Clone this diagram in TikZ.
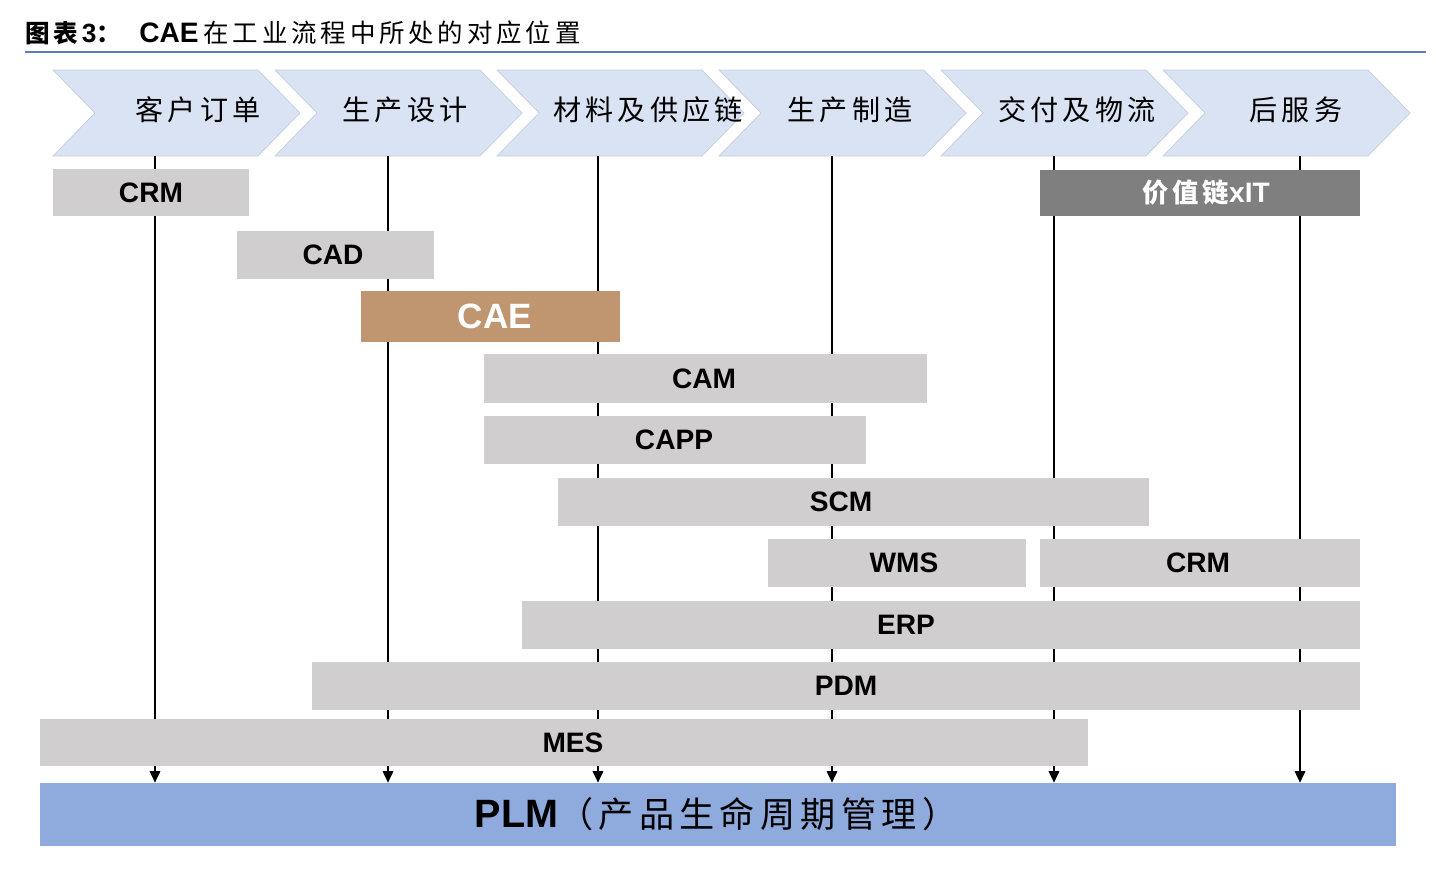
\documentclass[tikz,border=0pt]{standalone}
\usepackage{fontspec}
\setmainfont{Liberation Sans}
\newfontfamily\cjk{Noto Sans CJK SC}[LetterSpace=15]
\usepackage{xcolor}
\usetikzlibrary{arrows.meta}

\definecolor{chevblue}{HTML}{DAE3F3}
\definecolor{chevline}{HTML}{C5CEDD}
\definecolor{bargray}{HTML}{D0CECE}
\definecolor{caebrown}{HTML}{BF9670}
\definecolor{xitgray}{HTML}{7F7F7F}
\definecolor{plmblue}{HTML}{8FAADC}
\definecolor{ruleblue}{HTML}{5B7DB8}

\tikzset{
  chev/.style={fill=chevblue, draw=chevline, line width=0.4pt},
  stage/.style={inner sep=0pt, font=\fontsize{16}{18}\cjk},
  bar/.style={fill=bargray, inner sep=0pt, minimum height=0.96cm},
  tag/.style={inner sep=0pt, font=\bfseries\fontsize{16}{18}\selectfont},
  flow/.style={-{Triangle[width=6pt,length=6.5pt]}, line width=0.8pt},
}

\begin{document}
\begin{tikzpicture}[x=0.02cm, y=-0.02cm]
    \useasboundingbox (0,0) rectangle (1436,876);

    \node[anchor=west, inner sep=0pt] (title) at (25,33)
        {{\fontsize{14}{16}\cjk\bfseries 图表}\textbf{\fontsize{15}{16}\selectfont 3}{\fontsize{14}{16}\cjk\bfseries ：}\hspace{0.29cm}\textbf{\fontsize{16}{16}\selectfont CAE} {\fontsize{14.5}{16}\cjk 在工业流程中所处的对应位置}};
    \draw[ruleblue, line width=1pt] (25,52) -- (1426,52);

    \draw[chev] (53,70) -- ++(205,0) -- ++(42,43) -- ++(-42,43) -- ++(-205,0) -- ++(42,-43) -- cycle;
    \draw[chev] (275,70) -- ++(205,0) -- ++(42,43) -- ++(-42,43) -- ++(-205,0) -- ++(42,-43) -- cycle;
    \draw[chev] (497,70) -- ++(205,0) -- ++(42,43) -- ++(-42,43) -- ++(-205,0) -- ++(42,-43) -- cycle;
    \draw[chev] (719,70) -- ++(205,0) -- ++(42,43) -- ++(-42,43) -- ++(-205,0) -- ++(42,-43) -- cycle;
    \draw[chev] (941,70) -- ++(205,0) -- ++(42,43) -- ++(-42,43) -- ++(-205,0) -- ++(42,-43) -- cycle;
    \draw[chev] (1163,70) -- ++(205,0) -- ++(42,43) -- ++(-42,43) -- ++(-205,0) -- ++(42,-43) -- cycle;

    \node[stage] (order) at (198,110) {客户订单};
    \node[stage] (design) at (405,110) {生产设计};
    \node[stage] (supply) at (648,110) {材料及供应链};
    \node[stage] (make) at (850,110) {生产制造};
    \node[stage] (deliver) at (1077,110) {交付及物流};
    \node[stage] (service) at (1296,110) {后服务};

    \coordinate (s1) at (155,156);
    \coordinate (s2) at (388,156);
    \coordinate (s3) at (598,156);
    \coordinate (s4) at (832,156);
    \coordinate (s5) at (1054,156);
    \coordinate (s6) at (1300,156);

    \node[fill=plmblue, inner sep=0pt, minimum width=27.12cm, minimum height=1.26cm] (plm) at (718,814.5) {};
    \node[inner sep=0pt] (plmt) at (716,814.5)
        {\textbf{\fontsize{22.5}{24}\selectfont PLM}{\fontsize{20}{22}\cjk （产品生命周期管理）}};

    \draw[flow] (s1) -- (s1 |- plm.north);
    \draw[flow] (s2) -- (s2 |- plm.north);
    \draw[flow] (s3) -- (s3 |- plm.north);
    \draw[flow] (s4) -- (s4 |- plm.north);
    \draw[flow] (s5) -- (s5 |- plm.north);
    \draw[flow] (s6) -- (s6 |- plm.north);

    \node[bar, minimum width=3.92cm, minimum height=0.94cm] (crmA) at (151,192.5) {};
    \node[bar, fill=xitgray, minimum width=6.40cm, minimum height=0.92cm] (xit) at (1200,193) {};
    \node[bar, minimum width=3.94cm] (cad) at (335.5,255) {};
    \node[bar, fill=caebrown, minimum width=5.18cm, minimum height=1.02cm] (cae) at (490.5,316.5) {};
    \node[bar, minimum width=8.86cm, minimum height=0.98cm] (cam) at (705.5,378.5) {};
    \node[bar, minimum width=7.64cm] (capp) at (675,440) {};
    \node[bar, minimum width=11.82cm] (scm) at (853.5,502) {};
    \node[bar, minimum width=5.16cm] (wms) at (897,563) {};
    \node[bar, minimum width=6.40cm] (crmB) at (1200,563) {};
    \node[bar, minimum width=16.76cm] (erp) at (941,625) {};
    \node[bar, minimum width=20.96cm] (pdm) at (836,686) {};
    \node[bar, minimum width=20.96cm, minimum height=0.94cm] (mes) at (564,742.5) {};

    \node[tag] (crmAt) at (151,192.5) {CRM};
    \node[tag, text=white] (xitt) at (1206,193) {{\fontsize{15}{18}\cjk\bfseries 价值链}xIT};
    \node[tag] (cadt) at (333,255) {CAD};
    \node[tag, text=white, font=\bfseries\fontsize{20}{22}\selectfont] (caet) at (495,316.5) {CAE};
    \node[tag] (camt) at (704,378.5) {CAM};
    \node[tag] (cappt) at (674,440) {CAPP};
    \node[tag] (scmt) at (841,502) {SCM};
    \node[tag] (wmst) at (904,563) {WMS};
    \node[tag] (crmBt) at (1198,563) {CRM};
    \node[tag] (erpt) at (906,625) {ERP};
    \node[tag] (pdmt) at (846,686) {PDM};
    \node[tag] (mest) at (573,742.5) {MES};
\end{tikzpicture}
\end{document}
